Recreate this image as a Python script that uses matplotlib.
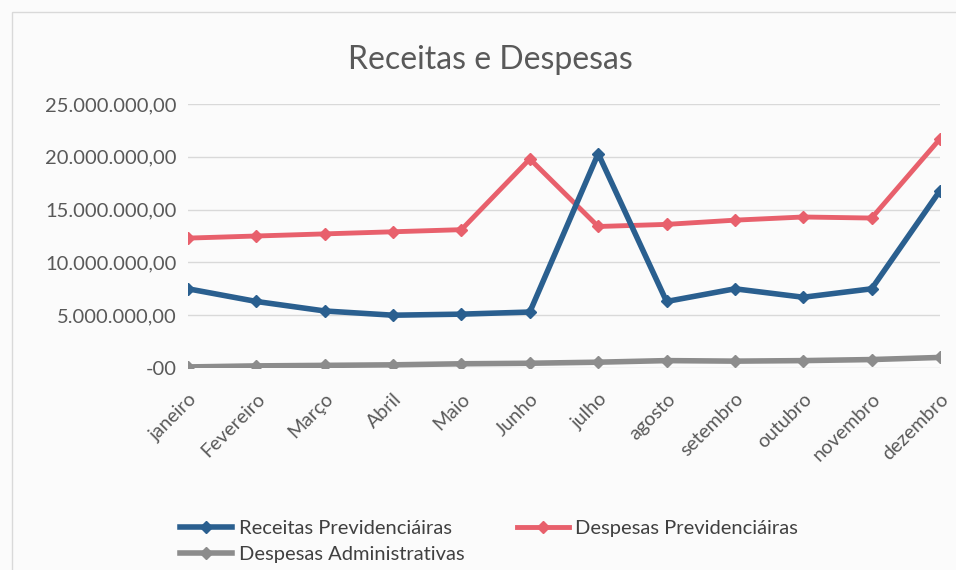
import matplotlib.pyplot as plt
from matplotlib.ticker import FuncFormatter
from matplotlib.patches import Rectangle

plt.rcParams['font.family'] = ['Lato', 'DejaVu Sans']

# Dados
meses = ['janeiro', 'Fevereiro', 'Março', 'Abril', 'Maio', 'Junho',
         'julho', 'agosto', 'setembro', 'outubro', 'novembro', 'dezembro']
receitas_prev = [7.5e6, 6.3e6, 5.4e6, 5.0e6, 5.1e6, 5.3e6,
                 20.3e6, 6.3e6, 7.5e6, 6.7e6, 7.5e6, 16.8e6]
despesas_prev = [12.3e6, 12.5e6, 12.7e6, 12.9e6, 13.1e6, 19.8e6,
                 13.4e6, 13.6e6, 14.0e6, 14.3e6, 14.2e6, 21.7e6]
despesas_adm = [0.1e6, 0.2e6, 0.25e6, 0.3e6, 0.4e6, 0.45e6,
                0.55e6, 0.7e6, 0.65e6, 0.7e6, 0.8e6, 1.0e6]

fig = plt.figure(figsize=(9.56, 5.7), dpi=100)
fig.patch.set_facecolor('#fbfbfb')
ax = fig.add_axes([188 / 956, 1 - 368 / 570, (940 - 188) / 956, (368 - 104) / 570])
ax.set_facecolor('none')

# borda da área do gráfico
fig.patches.append(Rectangle((12 / 956, -0.1), 1.2, 1 - 12 / 570 + 0.1,
                             transform=fig.transFigure, fill=False,
                             edgecolor='#d9d9d9', linewidth=1))

x = list(range(len(meses)))
l_adm, = ax.plot(x, despesas_adm, color='#8c8c8c', linewidth=4, marker='D', markersize=6,
                 label='Despesas Administrativas', zorder=3)
l_desp, = ax.plot(x, despesas_prev, color='#e8606c', linewidth=3.5, marker='D', markersize=6,
                  label='Despesas Previdenciáiras', zorder=3)
l_rec, = ax.plot(x, receitas_prev, color='#2a5f8f', linewidth=4, marker='D', markersize=6,
                 label='Receitas Previdenciáiras', zorder=4)

ax.set_xlim(0, 11)
ax.set_ylim(0, 25e6)
ax.set_yticks([0, 5e6, 10e6, 15e6, 20e6, 25e6])


def fmt(v, pos):
    if v == 0:
        return '-00'
    return f'{v:,.2f}'.replace(',', 'X').replace('.', ',').replace('X', '.')


ax.yaxis.set_major_formatter(FuncFormatter(fmt))
ax.grid(axis='y', color='#d9d9d9', linewidth=1)
ax.set_axisbelow(True)
for s in ax.spines.values():
    s.set_visible(False)
ax.tick_params(axis='both', length=0, colors='#595959')
ax.tick_params(axis='y', pad=8, labelsize=14.5)
ax.set_xticks(x)
ax.set_xticklabels(meses, rotation=45, ha='right', rotation_mode='anchor', fontsize=14)
ax.tick_params(axis='x', pad=16)

fig.text(490 / 956, 1 - 60 / 570, 'Receitas e Despesas', ha='center', va='center',
         fontsize=23, color='#595959')

# ordem por colunas: Receitas/Adm na 1a coluna, Despesas Prev na 2a
fig.legend([l_rec, l_adm, l_desp], [l_rec.get_label(), l_adm.get_label(), l_desp.get_label()],
           loc='upper left', bbox_to_anchor=(162 / 956, 1 - 502 / 570), ncol=2,
           frameon=False, fontsize=14.5, labelcolor='#404040', handlelength=2.6,
           columnspacing=2.6, handletextpad=0.3, labelspacing=0.45)

plt.savefig('out.png', dpi=100, facecolor=fig.get_facecolor())
